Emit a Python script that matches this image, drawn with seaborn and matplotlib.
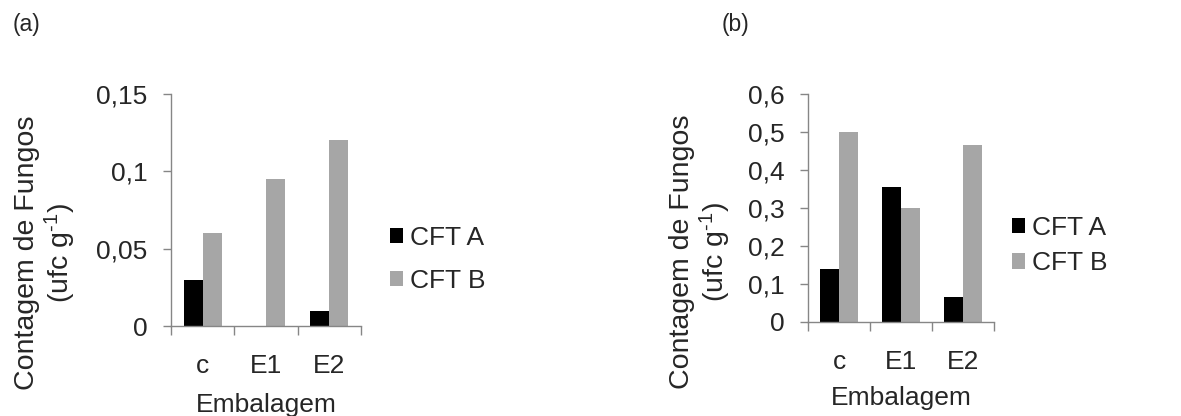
import matplotlib
matplotlib.use("Agg")
import matplotlib.pyplot as plt
from matplotlib.ticker import FuncFormatter, FixedLocator
import seaborn as sns
import pandas as pd

categories = ["c", "E1", "E2"]
series = ["CFT A", "CFT B"]
a_cft_a = [0.03, 0.0, 0.01]
a_cft_b = [0.06, 0.095, 0.12]
b_cft_a = [0.14, 0.355, 0.065]
b_cft_b = [0.50, 0.30, 0.465]
a_yticks = [0, 0.05, 0.10, 0.15]
b_yticks = [0, 0.1, 0.2, 0.3, 0.4, 0.5, 0.6]

sns.set_style("white")
plt.rcParams["font.family"] = ["Liberation Sans", "DejaVu Sans"]
plt.rcParams["mathtext.fontset"] = "custom"
plt.rcParams["mathtext.rm"] = "Liberation Sans"
plt.rcParams["mathtext.default"] = "regular"

FS = 19
SPINE = "#868686"
palette = {"CFT A": "#000000", "CFT B": "#a6a6a6"}

def make_df(sa, sb):
    rows = []
    for c, va, vb in zip(categories, sa, sb):
        rows.append({"Embalagem": c, "Série": series[0], "valor": va})
        rows.append({"Embalagem": c, "Série": series[1], "valor": vb})
    return pd.DataFrame(rows)

fig = plt.figure(figsize=(11.81, 4.16), dpi=100)
ax_a = fig.add_axes([0.1448, 0.2163, 0.1609, 0.5577])
ax_b = fig.add_axes([0.6842, 0.2260, 0.1575, 0.5481])

fmt = FuncFormatter(lambda v, p: ("%g" % round(v, 3)).replace(".", ","))

def style(ax, df, yticks, ylab_xy, xlab_y, leg_xy, labelspacing):
    sns.barplot(data=df, x="Embalagem", y="valor", hue="Série", order=categories,
                hue_order=series, palette=palette, width=0.6, linewidth=0,
                saturation=1, ax=ax)
    ax.set_xlim(-0.5, 2.5)
    ax.set_ylim(yticks[0], yticks[-1])
    ax.yaxis.set_major_locator(FixedLocator(yticks))
    ax.yaxis.set_major_formatter(fmt)
    ax.xaxis.set_minor_locator(FixedLocator([-0.5, 0.5, 1.5, 2.5]))
    ax.tick_params(axis="x", which="major", length=0, pad=20, labelsize=FS)
    ax.tick_params(axis="x", which="minor", length=6.5, width=1, color=SPINE,
                   direction="out", bottom=True)
    ax.tick_params(axis="y", which="major", length=6, width=1, color=SPINE,
                   direction="out", left=True, pad=11, labelsize=FS)
    for s in ["top", "right"]:
        ax.spines[s].set_visible(False)
    for s in ["left", "bottom"]:
        ax.spines[s].set_color(SPINE)
        ax.spines[s].set_linewidth(1)
    ax.set_ylabel("Contagem de Fungos\n(ufc g$^{\\text{-}1}$)", fontsize=20.5,
                  ha="center", va="center", linespacing=1.1)
    ax.yaxis.set_label_coords(*ylab_xy)
    ax.set_xlabel("Embalagem", fontsize=FS, va="center")
    ax.xaxis.set_label_coords(0.5, xlab_y)
    ax.legend_.remove()
    handles, labels = ax.get_legend_handles_labels()
    fig.legend(handles, labels, loc="center left", bbox_to_anchor=leg_xy,
               frameon=False, fontsize=FS, handlelength=0.5, handleheight=0.5,
               handletextpad=0.25, borderpad=0, borderaxespad=0,
               labelspacing=labelspacing)

style(ax_a, make_df(a_cft_a, a_cft_b), a_yticks, (-0.66, 0.315), -0.34,
      (0.330, 0.377), 0.72)
style(ax_b, make_df(b_cft_a, b_cft_b), b_yticks, (-0.575, 0.307), -0.333,
      (0.857, 0.41), 0.45)

fig.text(13 / 1181, 1 - 25 / 416, "(a)", fontsize=16.5, ha="left", va="center")
fig.text(722 / 1181, 1 - 25 / 416, "(b)", fontsize=16.5, ha="left", va="center")

fig.savefig("out.png", dpi=100)
